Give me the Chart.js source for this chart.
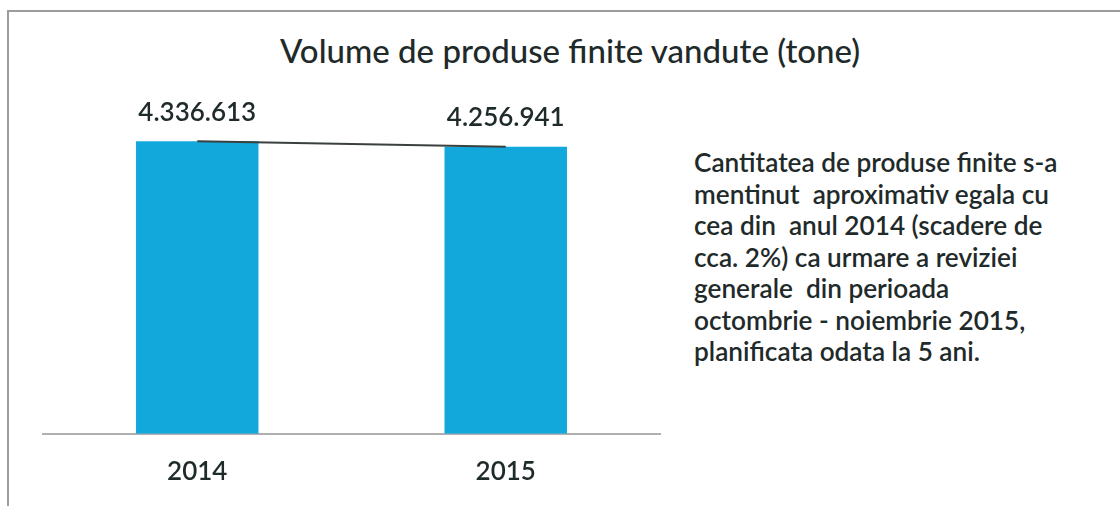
<!DOCTYPE html>
<html>
<head>
<meta charset="utf-8">
<script src="https://cdn.jsdelivr.net/npm/chart.js@4"></script>
<style>
  body { margin: 0; background: #fff; }
  #wrap { position: relative; width: 1120px; height: 506px; overflow: hidden; }
  #frame { position: absolute; left: 7px; top: 10px; width: 1113px; height: 496px;
           border-top: 2px solid #9c9c9c; border-left: 2px solid #9c9c9c; box-sizing: border-box; }
  #title { position: absolute; left: 0; top: 30px; width: 1140px; text-align: center;
           font: 500 33px Lato, sans-serif; line-height: 40px; color: #1f2a2a; }
  #note { position: absolute; left: 694px; top: 147px; white-space: pre;
          font: 600 26.2px Lato, sans-serif; line-height: 31.5px; color: #1f2a2a; }
  canvas { position: absolute; left: 0; top: 0; }
</style>
</head>
<body>
<div id="wrap">
  <div id="frame"></div>
  <div id="title">Volume de produse finite vandute (tone)</div>
  <div id="note">Cantitatea de produse finite s-a
mentinut  aproximativ egala cu
cea din  anul 2014 (scadere de
cca. 2%) ca urmare a reviziei
generale  din perioada
octombrie - noiembrie 2015,
planificata odata la 5 ani.</div>
  <canvas id="chart" width="1120" height="506"></canvas>
</div>
<script>
const years = ['2014', '2015'];
const tons = [4336613, 4256941];
const yMax = 5000000;

function formatTons(v) {
    return String(v).replace(/\B(?=(\d{3})+(?!\d))/g, '.');
}

// values written above the bars
const valueLabels = {
    id: 'valueLabels',
    afterDatasetsDraw(chart) {
        const ctx = chart.ctx;
        const meta = chart.getDatasetMeta(0);
        ctx.save();
        ctx.font = '600 26px Lato, sans-serif';
        ctx.fillStyle = '#1f2a2a';
        ctx.textAlign = 'center';
        ctx.textBaseline = 'middle';
        meta.data.forEach((bar, i) => {
            ctx.fillText(formatTons(tons[i]), bar.x, bar.y - 29);
        });
        ctx.restore();
    }
};

const ctx = document.getElementById('chart');
new Chart(ctx, {
    data: {
        labels: years,
        datasets: [{
            type: 'bar',
            data: tons,
            backgroundColor: '#13a8dc',
            categoryPercentage: 1,
            barPercentage: 0.397,
            order: 2
        }, {
            type: 'line',
            data: tons,
            borderColor: '#3a3f3f',
            borderWidth: 2,
            pointRadius: 0,
            order: 1
        }]
    },
    options: {
        responsive: false,
        animation: false,
        layout: {
            padding: { left: 43, right: 460, top: 96.5, bottom: 5 }
        },
        plugins: {
            legend: { display: false },
            tooltip: { enabled: false }
        },
        scales: {
            x: {
                grid: { display: false },
                border: { color: '#b0b0b0', width: 2 },
                ticks: {
                    padding: 14,
                    color: '#1f2a2a',
                    font: { family: 'Lato', size: 26, weight: '600' }
                }
            },
            y: {
                display: false,
                min: 0,
                max: yMax
            }
        }
    },
    plugins: [valueLabels]
});
</script>
</body>
</html>
